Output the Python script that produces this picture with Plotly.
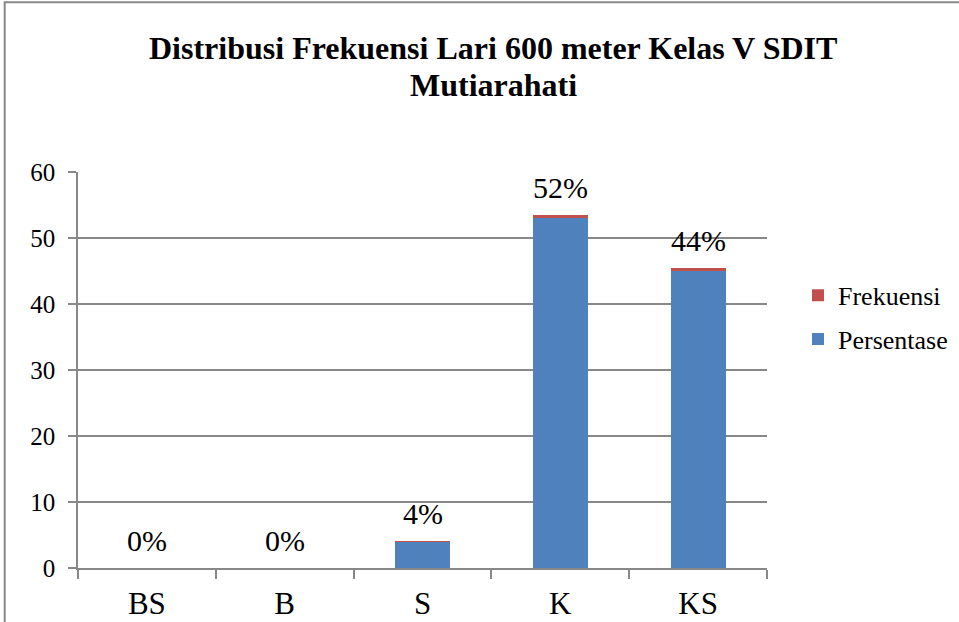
import plotly.graph_objects as go

categories = ["BS", "B", "S", "K", "KS"]
persentase = [0, 0, 4, 53, 45]
frekuensi = [0, 0, 0.04, 0.52, 0.44]
label_text = ["0%", "0%", "4%", "52%", "44%"]
title_lines = ["Distribusi Frekuensi Lari 600 meter Kelas V SDIT", "Mutiarahati"]

BLUE = "#4F81BD"
RED = "#C0504D"
GRAY = "#888888"
FONT = "Times New Roman, Liberation Serif, serif"

fig = go.Figure()
fig.add_trace(go.Bar(x=categories, y=persentase, name="Persentase",
                     marker=dict(color=BLUE, line=dict(width=0)),
                     legendgroup="p", legendrank=2))
fig.add_trace(go.Bar(x=categories, y=frekuensi, name="Frekuensi",
                     marker=dict(color=RED, line=dict(width=0)),
                     legendgroup="f", legendrank=1))

totals = [p + f for p, f in zip(persentase, frekuensi)]
for c, t, s in zip(categories, totals, label_text):
    fig.add_annotation(x=c, y=t, text=s, showarrow=False, yanchor="bottom",
                       yshift=9, font=dict(family=FONT, size=30, color="black"))

for txt, yy in zip(title_lines, [1.312, 1.219]):
    fig.add_annotation(xref="paper", yref="paper", x=0.603, y=yy, text="<b>" + txt + "</b>",
                       showarrow=False, xanchor="center", yanchor="middle",
                       font=dict(family=FONT, size=32, color="black"))

fig.add_shape(type="rect", xref="paper", yref="paper",
              x0=-0.1064, x1=1.3, y0=-0.2, y1=1.4285,
              line=dict(color=GRAY, width=2), fillcolor="rgba(0,0,0,0)", layer="below")

fig.update_layout(
    width=959, height=622,
    margin=dict(l=78, r=192, t=172, b=54, autoexpand=False),
    paper_bgcolor="white", plot_bgcolor="white",
    barmode="stack", bargap=0.6,
    font=dict(family=FONT, color="black"),
    legend=dict(x=1.045, y=0.748, xanchor="left", yanchor="top",
                font=dict(family=FONT, size=26, color="black"),
                traceorder="grouped", tracegroupgap=7,
                bgcolor="rgba(0,0,0,0)"),
    showlegend=True,
)
fig.update_xaxes(type="category", tickson="boundaries", ticks="outside", ticklen=9,
                 tickcolor=GRAY, tickwidth=1.5, showline=True, linecolor=GRAY, linewidth=1.5,
                 showgrid=False, ticklabelstandoff=7, automargin=False,
                 tickfont=dict(family=FONT, size=31, color="black"))
fig.update_yaxes(range=[0, 60], dtick=10, ticks="outside", ticklen=8, tickcolor=GRAY,
                 tickwidth=1.5, showline=True, linecolor=GRAY, linewidth=1.5,
                 showgrid=True, gridcolor=GRAY, gridwidth=1.5, zeroline=False,
                 ticklabelstandoff=8, automargin=False,
                 tickfont=dict(family=FONT, size=25, color="black"))

fig.write_html("out.html", config={"displayModeBar": False},
               post_script="document.body.style.margin='0';")
